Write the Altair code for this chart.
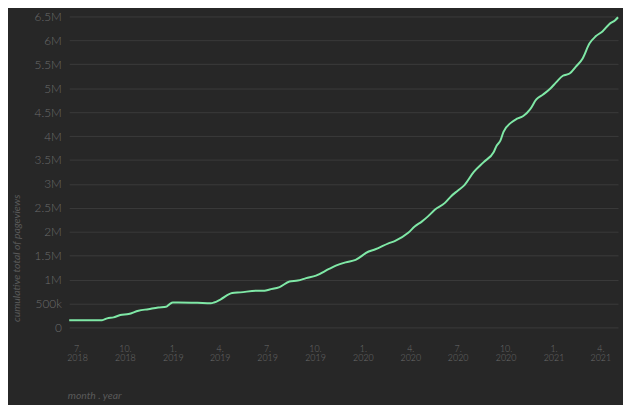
import altair as alt
import pandas as pd

# Cumulative pageviews
dates = [
    "2018-06-16", "2018-08-18", "2018-08-28", "2018-09-09", "2018-09-22", "2018-10-08",
    "2018-10-27", "2018-11-15", "2018-12-04", "2018-12-19", "2018-12-26", "2019-01-01",
    "2019-01-11", "2019-02-17", "2019-03-15", "2019-03-21", "2019-04-03", "2019-04-25",
    "2019-05-11", "2019-06-11", "2019-06-26", "2019-07-06", "2019-07-25", "2019-08-13",
    "2019-08-29", "2019-09-14", "2019-10-03", "2019-10-28", "2019-11-10", "2019-11-29",
    "2019-12-18", "2020-01-12", "2020-01-25", "2020-02-19", "2020-03-03", "2020-03-28",
    "2020-04-10", "2020-04-23", "2020-05-05", "2020-05-18", "2020-06-06", "2020-06-19",
    "2020-07-01", "2020-07-14", "2020-08-01", "2020-08-20", "2020-09-08", "2020-09-14",
    "2020-09-21", "2020-09-27", "2020-10-11", "2020-10-22", "2020-11-04", "2020-11-17",
    "2020-11-29", "2020-12-12", "2020-12-25", "2021-01-06", "2021-01-19", "2021-02-01",
    "2021-02-13", "2021-02-26", "2021-03-11", "2021-03-23", "2021-04-05", "2021-04-18",
    "2021-04-30", "2021-05-05",
]
pageviews = [
    150000, 150000, 190000, 210000, 258000, 279000,
    349000, 382000, 417000, 431000, 489000, 520000,
    520000, 514000, 506000, 520000, 588000, 720000,
    733000, 768000, 768000, 794000, 844000, 960000,
    980000, 1030000, 1083000, 1222000, 1290000, 1360000,
    1413000, 1587000, 1634000, 1758000, 1810000, 1979000,
    2115000, 2212000, 2321000, 2460000, 2598000, 2749000,
    2858000, 2976000, 3250000, 3456000, 3663000, 3801000,
    3904000, 4090000, 4276000, 4358000, 4420000, 4558000,
    4765000, 4868000, 4983000, 5122000, 5260000, 5307000,
    5452000, 5623000, 5933000, 6085000, 6188000, 6339000,
    6428000, 6484000,
]
y_ticks = [0, 500000, 1000000, 1500000, 2000000, 2500000, 3000000,
           3500000, 4000000, 4500000, 5000000, 5500000, 6000000, 6500000]

df = pd.DataFrame({"date": pd.to_datetime(dates), "pageviews": pageviews})

FONT = "Lato"
LABEL = "#6c6c6c"
TITLE = "#5a5a5a"
BG = "#272727"

chart = (
    alt.Chart(df)
    .mark_line(interpolate="monotone", color="#7fe8a6", strokeWidth=2)
    .encode(
        x=alt.X(
            "date:T",
            title="month . year",
            axis=alt.Axis(
                tickCount={"interval": "month", "step": 3},
                labelExpr="[timeFormat(datum.value, '%-m.'), timeFormat(datum.value, '%Y')]",
                grid=False,
                domain=False,
                ticks=False,
                labelPadding=17,
                labelFontSize=9,
                labelLineHeight=10,
                labelColor=LABEL,
                labelFont=FONT,
                labelFontWeight=300,
                titleFont=FONT,
                titleFontSize=10.5,
                titleFontStyle="italic",
                titleFontWeight="normal",
                titleColor=TITLE,
                titleAlign="left",
                titleAnchor="start",
                titleBaseline="middle",
                titleX=-2,
                titleY=69,
            ),
        ),
        y=alt.Y(
            "pageviews:Q",
            title="cumulative total of pageviews",
            scale=alt.Scale(domain=[0, 6500000], nice=False),
            axis=alt.Axis(
                values=y_ticks,
                labelExpr="format(datum.value, '~s')",
                grid=True,
                gridColor="#3b3b3b",
                gridWidth=1,
                domain=False,
                ticks=False,
                labelPadding=8,
                labelFontSize=12,
                labelColor=LABEL,
                labelFont=FONT,
                labelFontWeight=300,
                titleFont=FONT,
                titleFontSize=10.5,
                titleFontStyle="italic",
                titleFontWeight="normal",
                titleColor=TITLE,
                titleAngle=-90,
                titleAlign="left",
                titleBaseline="middle",
                titleX=-53,
                titleY=309,
            ),
        ),
    )
    .properties(
        width=556,
        height=315,
        background=BG,
        padding={"left": 62, "top": 6, "right": 5, "bottom": 76},
        autosize="none",
    )
    .configure_view(stroke=None)
)

chart.save("out.html", embed_options={"renderer": "svg", "actions": False})
